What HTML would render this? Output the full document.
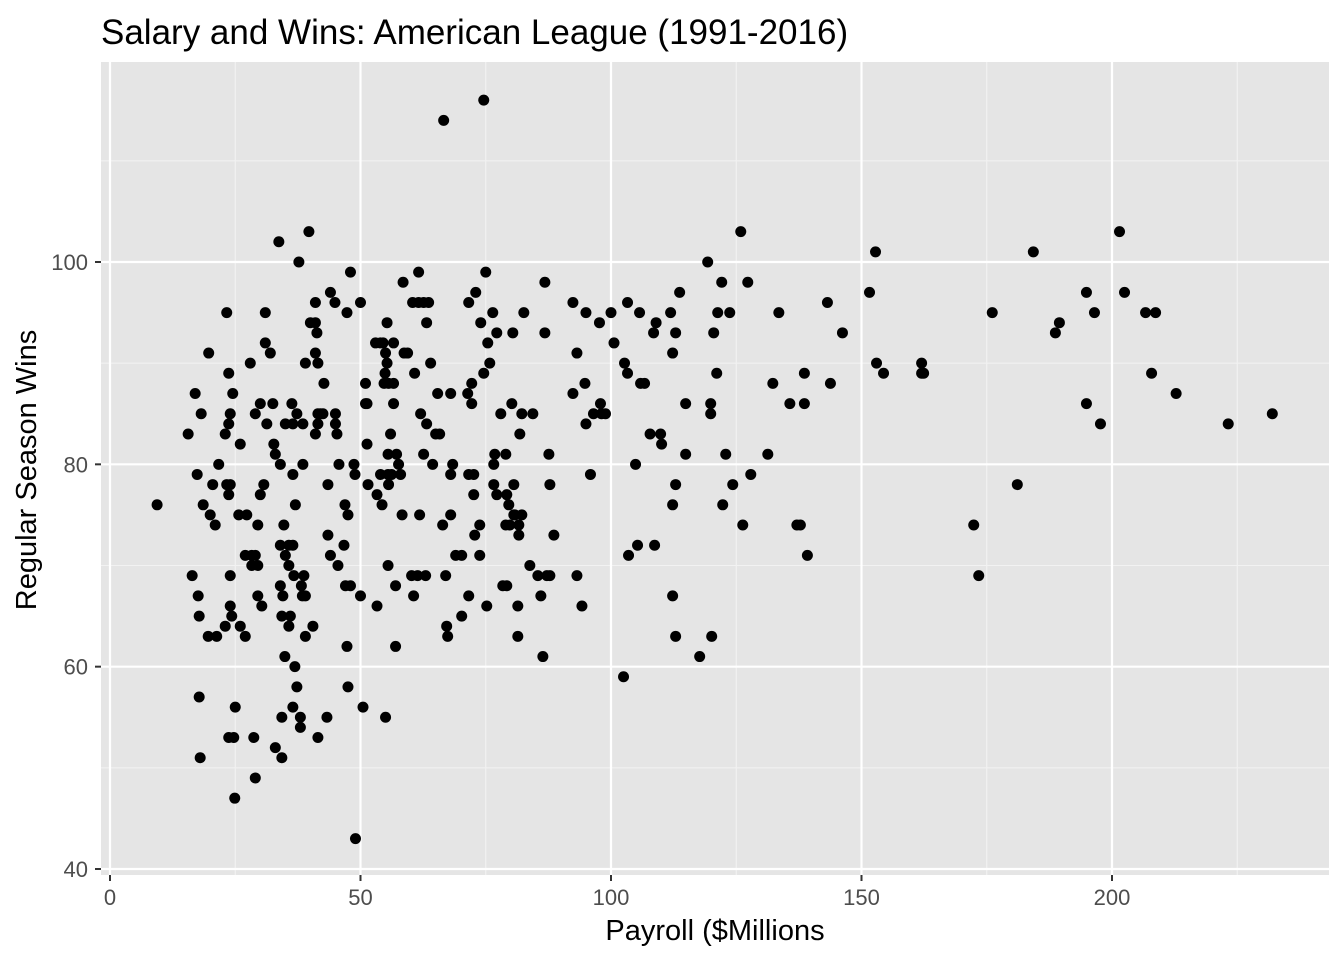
<!DOCTYPE html>
<html><head><meta charset="utf-8"><style>
body{margin:0;background:#fff;font-family:"Liberation Sans",sans-serif;}
</style></head><body>
<svg id="chart" width="1344" height="960" xmlns="http://www.w3.org/2000/svg">
<text x="101" y="44" font-size="35" fill="#000" font-family="Liberation Sans, sans-serif">Salary and Wins: American League (1991-2016)</text>
<rect x="101" y="62" width="1228" height="813" fill="#e5e5e5"/>
<g id="grid"></g>
<g id="pts"></g>
<g id="axes"></g>
<text x="715" y="940" font-size="29" text-anchor="middle" font-family="Liberation Sans, sans-serif">Payroll ($Millions</text>
<text transform="translate(36,470) rotate(-90)" font-size="29" text-anchor="middle" font-family="Liberation Sans, sans-serif">Regular Season Wins</text>
</svg>
<script>
const xTicks=[0,50,100,150,200];
const xMinor=[25,75,125,175,225];
const yTicks=[40,60,80,100];
const yMinor=[50,70,90,110];
const payroll=[9.4,15.6,17,17.4,16.4,17.6,17.8,17.8,18,18.2,18.6,19.7,20,21,20.5,21.7,19.6,21.3,23.3,23.7,23,24,23.7,23.3,23.7,24,24,24,24.3,23,24.5,23.7,24.7,25,24.9,25.7,26,26,27,27,27.3,28,28.3,28.3,28.7,29,29,29,29.5,29.5,29.5,30,30,30.3,30.7,31,31,31.3,32,32.5,32.7,33,33,33.7,34,34,34,34.7,34.3,34.5,34.3,34.3,34.9,35,35.7,35,35.7,35.7,36,36.3,36.5,36.5,36.5,36.7,36.5,36.9,37.3,37,37.3,37.7,38,38,38.2,38.4,38.5,38.7,38.5,39,39,39,39.7,40,40.5,41,41,41,41,41.5,41.5,41.3,41.5,41.5,42,42.7,42.5,43.5,43.3,43.5,44,44,44.9,45,45,45.3,45.5,45.7,46.7,46.9,47,47.3,47.3,47.5,47.5,48,48,48.7,48.9,49,50,50,50.5,51,51,51.3,51.5,51.3,53,53.3,53.3,54,54,54.3,54.5,54.7,54.9,55,55.3,55,55.3,55.5,55.5,55.5,55.6,55.6,56,56.2,56.6,56.6,56.6,57,57,57.2,57.6,58,58.3,58.5,58.7,59.4,60.2,60.6,60.4,60.8,61.4,61.6,61.6,61.8,62,62.6,62.6,63,63.2,63.2,63.6,64,64.4,65,65.4,65.8,66.4,66.6,67,67.2,67.4,68,68,68,68.4,69,70.2,70.2,71.4,71.6,71.6,71.6,72.2,72.2,72.6,72.6,72.8,73,73.8,73.8,74,74.6,74.6,75,75.2,75.4,75.8,76.4,76.6,76.6,76.8,77.2,77.2,78,78.4,79,79,79.2,79.2,79.6,79.8,80.2,80.4,80.6,80.6,80.8,81.4,81.4,81.6,81.6,81.8,82.2,82.2,82.6,83.8,84.4,85.4,86,86.4,86.8,86.8,87.2,87.6,87.8,87.8,88.6,92.4,92.4,93.2,93.2,94.2,94.8,95,95,95.9,96.5,97.7,97.9,98.1,98.9,100,100.6,102.5,102.7,103.3,103.5,103.3,104.9,105.3,105.7,105.9,106.7,107.8,108.5,108.7,109,109.9,110.1,111.9,112.3,112.3,112.3,112.9,112.9,112.9,113.7,114.9,114.9,117.7,119.3,119.9,119.9,120.1,120.5,121.1,121.3,122.1,122.3,122.9,123.7,124.3,125.9,126.3,127.3,127.9,131.3,132.3,133.5,135.7,137.1,137.8,138.6,138.6,139.2,143.2,143.8,146.2,151.6,152.8,153,154.4,162,162,162.4,172.4,173.4,176.1,181.1,184.3,188.7,189.5,194.9,194.9,196.5,197.7,201.5,202.5,206.7,208.7,207.9,212.8,223.2,232];
const wins=[76,83,87,79,69,67,65,57,51,85,76,91,75,74,78,80,63,63,95,89,83,85,84,78,77,78,69,66,65,64,87,53,53,56,47,75,82,64,63,71,75,90,70,71,53,71,85,49,70,74,67,86,77,66,78,92,95,84,91,86,82,81,52,102,80,68,72,74,65,67,55,51,61,84,64,71,72,70,65,86,79,84,72,69,56,60,58,76,85,100,55,54,68,67,84,69,80,90,63,67,103,94,64,83,94,96,91,90,85,93,84,53,85,88,85,78,55,73,71,97,96,85,84,83,70,80,72,76,68,62,95,58,75,99,68,80,79,43,96,67,56,88,86,82,78,86,92,66,77,92,79,76,92,88,89,55,94,91,90,70,79,81,88,78,83,79,92,86,88,62,68,81,80,79,75,98,91,91,69,67,96,89,69,99,96,75,85,81,96,69,84,94,96,90,80,83,87,83,74,114,69,64,63,87,79,75,80,71,71,65,87,96,79,67,88,86,79,77,73,97,74,71,94,89,116,99,66,92,90,95,80,78,81,93,77,85,68,81,74,77,68,76,74,86,93,78,75,75,66,63,74,73,83,75,85,95,70,85,69,67,61,98,93,69,81,69,78,73,96,87,69,91,66,88,95,84,79,85,94,86,85,85,95,92,59,90,96,71,89,80,72,95,88,88,83,93,72,94,83,82,95,91,76,67,93,78,63,97,86,81,61,100,86,85,63,93,89,95,98,76,81,95,78,103,74,98,79,81,88,95,86,74,74,89,86,71,96,88,93,97,101,90,89,90,89,89,74,69,95,78,101,93,94,86,97,95,84,103,97,95,95,89,87,84,85];
const NS='http://www.w3.org/2000/svg';
const X0=101,X1=1329,Y0=62,Y1=875;
function xs(v){return 110+v*(1112-110)/200;}
function ys(v){return 869-(v-40)*(869-262)/60;}
function mk(tag,attrs,parent){const e=document.createElementNS(NS,tag);for(const k in attrs)e.setAttribute(k,attrs[k]);parent.appendChild(e);return e;}
const grid=document.getElementById('grid'),axes=document.getElementById('axes'),pts=document.getElementById('pts');
xMinor.forEach(v=>{const l=mk('line',{x1:xs(v),x2:xs(v),y1:Y0,y2:Y1,stroke:'#f2f2f2','stroke-width':1.1},grid);

});
yMinor.forEach(v=>{const l=mk('line',{x1:X0,x2:X1,y1:ys(v),y2:ys(v),stroke:'#f2f2f2','stroke-width':1.1},grid);

});
xTicks.forEach(v=>{const l=mk('line',{x1:xs(v),x2:xs(v),y1:Y0,y2:Y1,stroke:'#fff','stroke-width':2.2},grid);


const t=mk('line',{x1:xs(v),x2:xs(v),y1:Y1,y2:Y1+6,stroke:'#333','stroke-width':2},axes);


const tx=mk('text',{x:xs(v),y:Y1+30,'font-size':22,'text-anchor':'middle',fill:'#4d4d4d','font-family':'Liberation Sans, sans-serif'},axes);
tx.textContent=v;

});
yTicks.forEach(v=>{const l=mk('line',{x1:X0,x2:X1,y1:ys(v),y2:ys(v),stroke:'#fff','stroke-width':2.2},grid);


const t=mk('line',{x1:X0-6,x2:X0,y1:ys(v),y2:ys(v),stroke:'#333','stroke-width':2},axes);


const tx=mk('text',{x:X0-13,y:ys(v)+8,'font-size':22,'text-anchor':'end',fill:'#4d4d4d','font-family':'Liberation Sans, sans-serif'},axes);
tx.textContent=v;

});
payroll.forEach((p,i)=>{const c=mk('circle',{cx:xs(p),cy:ys(wins[i]),r:5.5,fill:'#000'},pts);

});
</script>
</body></html>
